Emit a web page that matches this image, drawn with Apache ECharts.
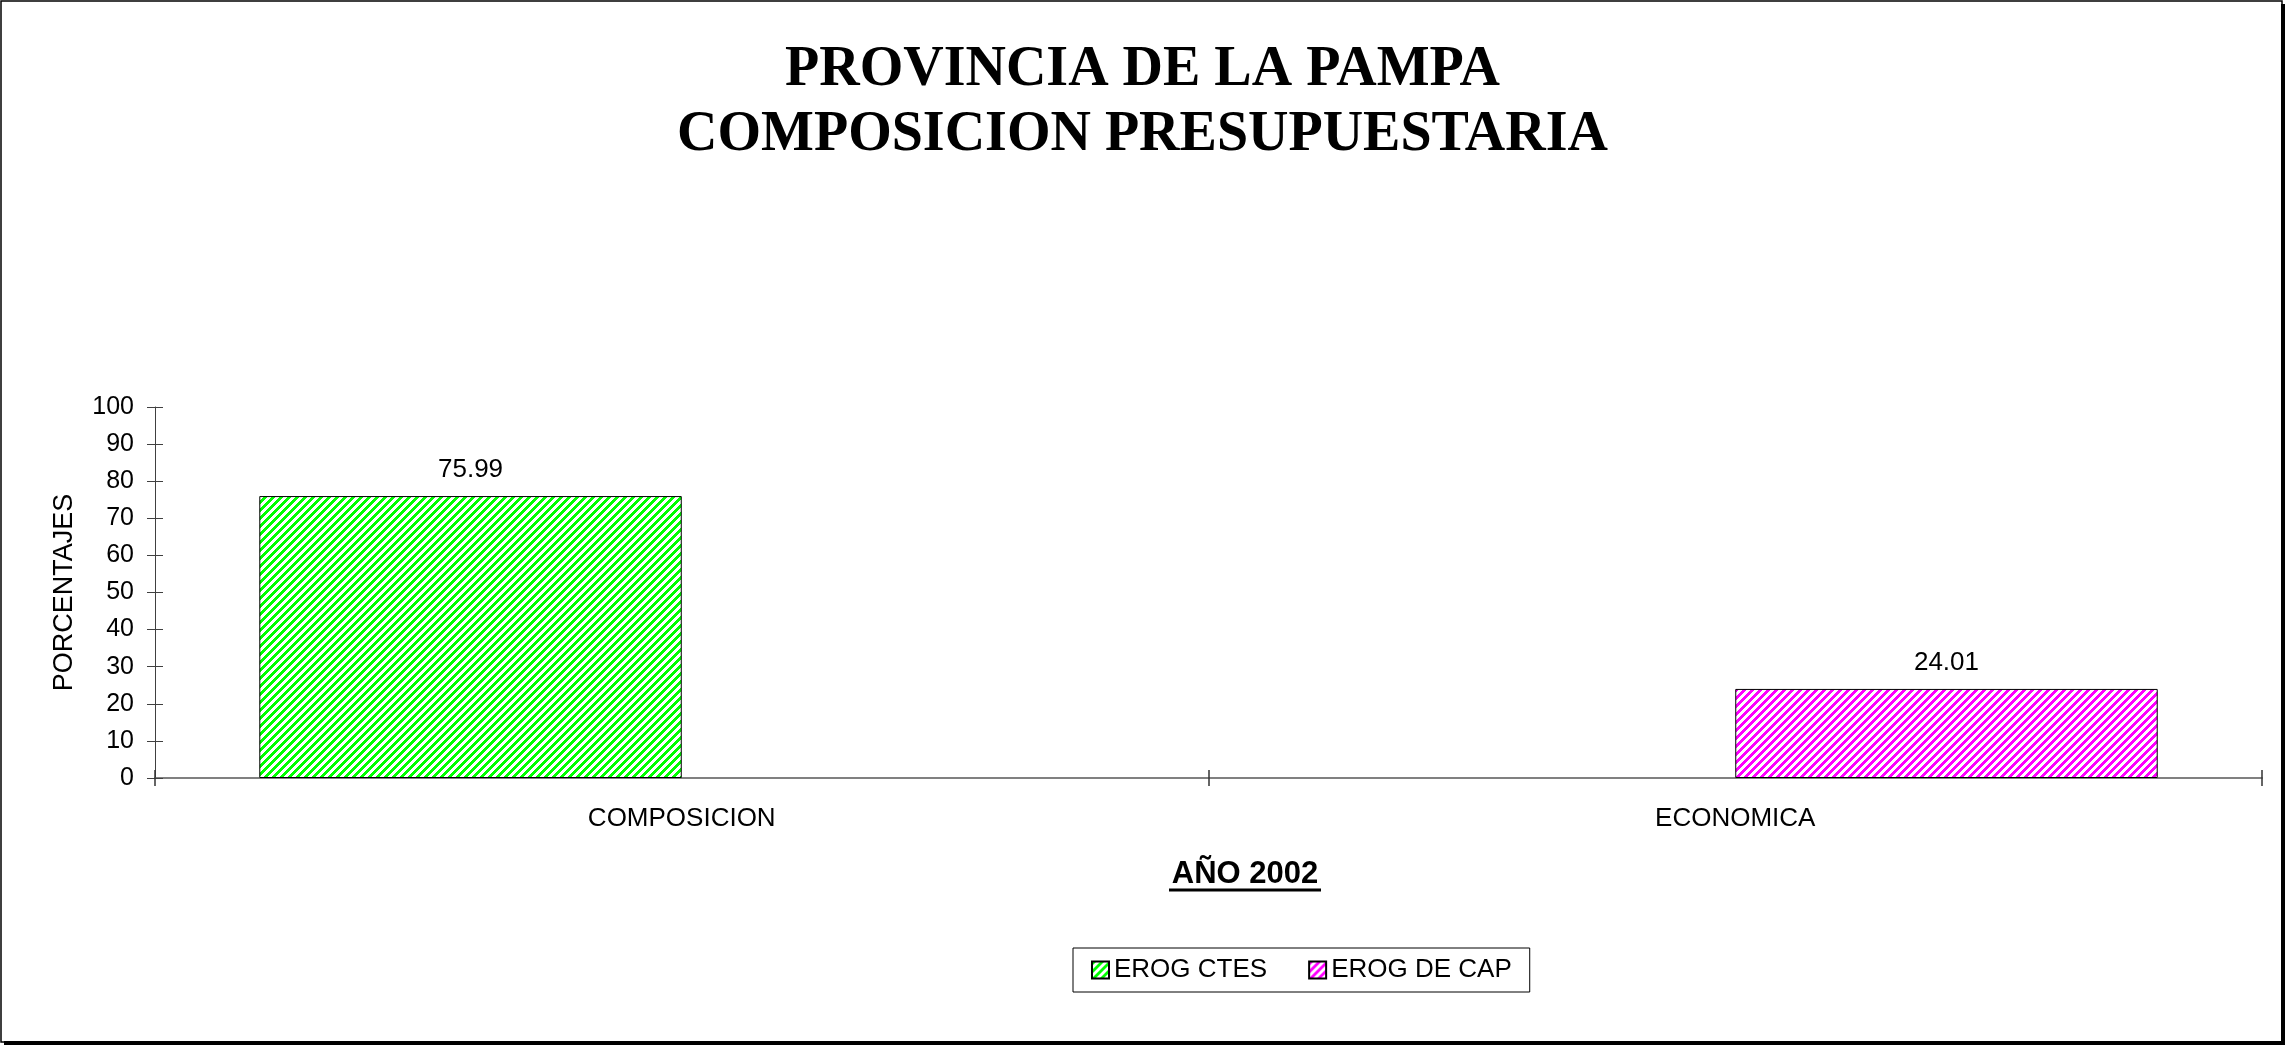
<!DOCTYPE html>
<html><head><meta charset="utf-8">
<script src="https://cdn.jsdelivr.net/npm/echarts@6/dist/echarts.min.js"></script>
<style>html,body{margin:0;padding:0;background:#fff}#c{width:2285px;height:1045px}</style>
</head><body><div id="c"></div>
<script>
// ---- data ----
const titleLines = ['PROVINCIA DE LA PAMPA', 'COMPOSICION PRESUPUESTARIA'];
const categories = ['COMPOSICION', 'ECONOMICA'];
const seriesNames = ['EROG CTES', 'EROG DE CAP'];
const erogCtes = [75.99, '-'];
const erogDeCap = ['-', 24.01];
const yMin = 0, yMax = 100, yInterval = 10;
const yAxisName = 'PORCENTAJES';
const xAxisName = 'AÑO 2002';

// ---- hatch patterns ----
function hatch(r, g, b) {
  const n = 8;
  const cv = document.createElement('canvas');
  cv.width = n; cv.height = n;
  const ctx = cv.getContext('2d');
  const img = ctx.createImageData(n, n);
  for (let y = 0; y < n; y++) for (let x = 0; x < n; x++) {
    const on = ((x + y) % n) < 4;
    const i = (y * n + x) * 4;
    img.data[i] = on ? r : 255; img.data[i + 1] = on ? g : 255; img.data[i + 2] = on ? b : 255; img.data[i + 3] = 255;
  }
  ctx.putImageData(img, 0, 0);
  return { image: cv, repeat: 'repeat' };
}
const greenHatch = hatch(0, 255, 0);
const magentaHatch = hatch(255, 0, 255);

const SANS = '"Liberation Sans", Arial, sans-serif';
const chart = echarts.init(document.getElementById('c'), null, { renderer: 'canvas' });

const yBase = { type: 'value', min: yMin, max: yMax, interval: yInterval, splitLine: { show: false } };
const xBase = { type: 'category', data: categories, boundaryGap: true };

chart.setOption({
  animation: false,
  backgroundColor: '#fff',
  title: {
    text: titleLines.join('\n'),
    left: 'center', top: 38, padding: 0,
    textStyle: { fontFamily: '"Liberation Serif", "Times New Roman", serif', fontWeight: 'bold', fontSize: 56, lineHeight: 65, color: '#000' }
  },
  grid: { left: 155, right: 23, top: 407, bottom: 267, containLabel: false },
  legend: {
    data: seriesNames,
    left: 1073, top: 948,
    padding: [9, 18, 9, 18],
    itemWidth: 17, itemHeight: 17, itemGap: 41,
    icon: 'rect',
    borderColor: '#000', borderWidth: 1,
    textStyle: { fontFamily: SANS, fontSize: 26, color: '#000' }
  },
  xAxis: [
    Object.assign({}, xBase, {
      axisLine: { lineStyle: { color: '#808080', width: 2 } },
      axisTick: { show: true, inside: false, length: 8, lineStyle: { color: '#333', width: 1.5 } },
      axisLabel: { fontFamily: SANS, fontSize: 26, color: '#000', margin: 28 }
    }),
    Object.assign({}, xBase, {
      position: 'bottom', offset: 0,
      axisLine: { show: false },
      axisTick: { show: true, inside: true, length: 8, lineStyle: { color: '#333', width: 1.5 } },
      axisLabel: { show: false }
    })
  ],
  yAxis: [
    Object.assign({}, yBase, {
      name: yAxisName, nameLocation: 'middle', nameRotate: 90, nameGap: 77,
      nameTextStyle: { fontFamily: SANS, fontSize: 27, color: '#000' },
      axisLine: { show: true, lineStyle: { color: '#404040', width: 1 } },
      axisTick: { show: true, inside: false, length: 8, lineStyle: { color: '#404040' } },
      axisLabel: { fontFamily: SANS, fontSize: 25, color: '#000', margin: 21 }
    }),
    Object.assign({}, yBase, {
      position: 'left', offset: 0,
      axisLine: { show: false },
      axisTick: { show: true, inside: true, length: 8, lineStyle: { color: '#404040' } },
      axisLabel: { show: false }
    })
  ],
  series: [
    {
      name: seriesNames[0], type: 'bar', data: erogCtes,
      barGap: '0%', barCategoryGap: '19.8%',
      itemStyle: { color: greenHatch, borderColor: '#000', borderWidth: 1 },
      label: { show: true, position: 'top', distance: 13, fontFamily: SANS, fontSize: 26, color: '#000',
               formatter: p => Number(p.value).toFixed(2) }
    },
    {
      name: seriesNames[1], type: 'bar', data: erogDeCap,
      barGap: '0%', barCategoryGap: '19.8%',
      itemStyle: { color: magentaHatch, borderColor: '#000', borderWidth: 1 },
      label: { show: true, position: 'top', distance: 13, fontFamily: SANS, fontSize: 26, color: '#000',
               formatter: p => Number(p.value).toFixed(2) }
    }
  ],
  graphic: [
    { type: 'text', x: 1245, y: 874, style: { text: xAxisName, fontFamily: SANS, fontWeight: 'bold', fontSize: 31, fill: '#000', align: 'center', verticalAlign: 'middle' } },
    { type: 'line', shape: { x1: 1169, y1: 890, x2: 1321, y2: 890 }, style: { stroke: '#000', lineWidth: 3 } },
    { type: 'rect', shape: { x: 1, y: 1, width: 2281, height: 1041 }, style: { fill: 'none', stroke: '#000', lineWidth: 1.5 } },
    { type: 'rect', shape: { x: 2281, y: 4, width: 4, height: 1041 }, style: { fill: '#000' } },
    { type: 'rect', shape: { x: 4, y: 1041, width: 2281, height: 4 }, style: { fill: '#000' } }
  ]
});
</script>
</body></html>
